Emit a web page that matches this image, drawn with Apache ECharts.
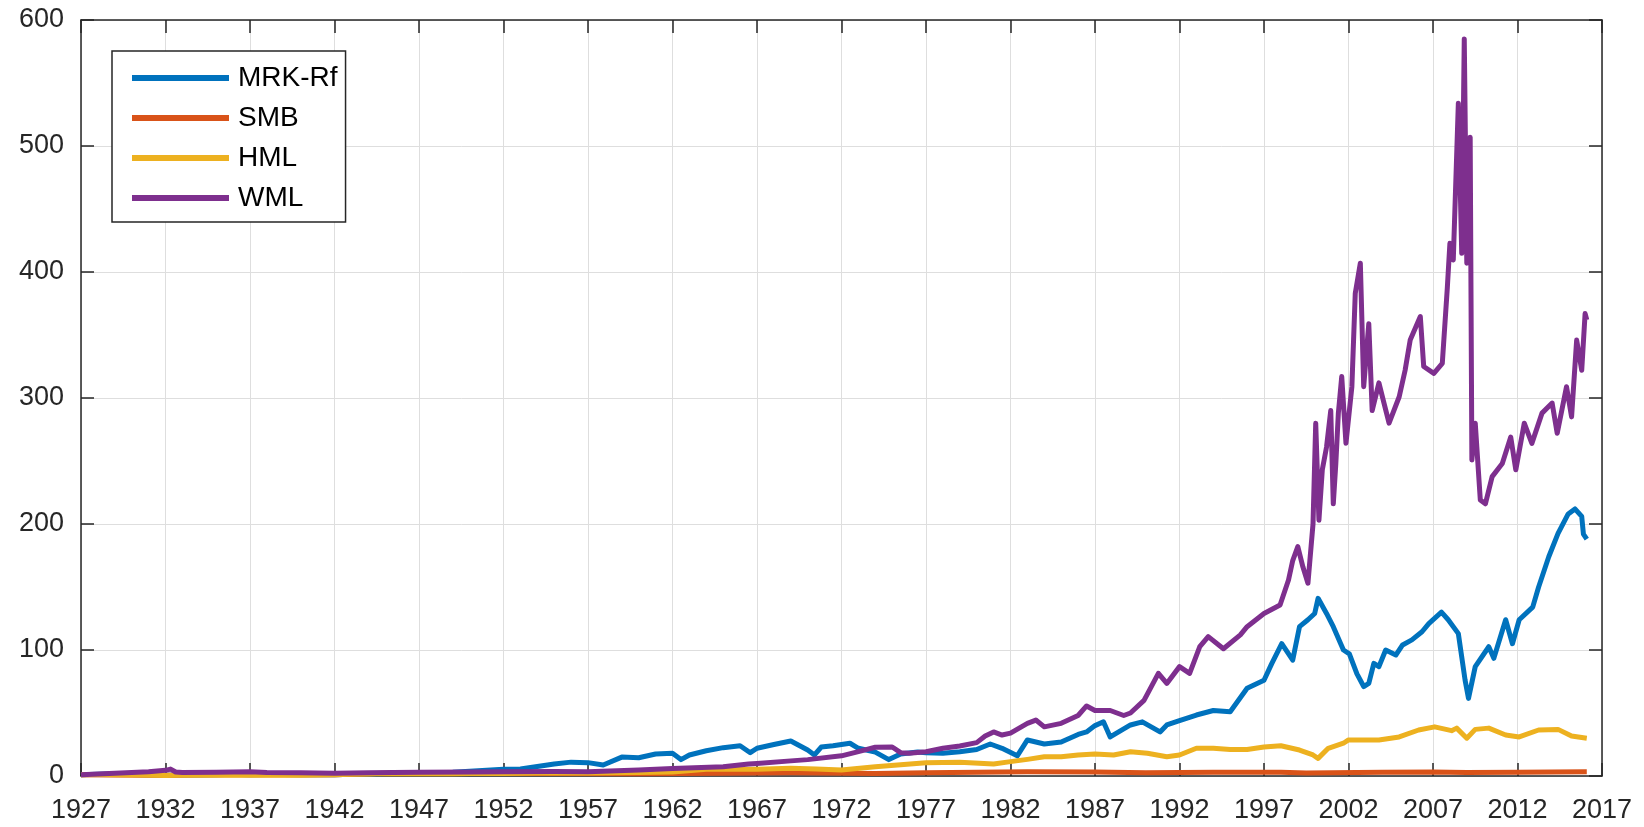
<!DOCTYPE html>
<html>
<head>
<meta charset="utf-8">
<title>Cumulative factor returns</title>
<script src="https://cdn.jsdelivr.net/npm/echarts@6/dist/echarts.min.js"></script>
<style>
    html, body { margin: 0; padding: 0; background: #fff; }
    #chart { width: 1644px; height: 827px; }
</style>
</head>
<body>
<div id="chart"></div>
<script>
// years (decimal) and cumulative values
var mrkYears = [1927, 1928, 1929, 1930, 1931, 1932, 1933, 1934, 1935, 1936, 1937, 1938, 1939, 1940, 1941, 1942, 1943, 1944, 1945, 1946,
    1947, 1948, 1949, 1950, 1951, 1952, 1953, 1954, 1955, 1956, 1957, 1957.9, 1959, 1960, 1961, 1962, 1962.5, 1963, 1964, 1965,
    1966, 1966.6, 1967, 1968, 1969, 1970, 1970.4, 1970.8, 1971.5, 1972.5, 1973, 1974, 1974.8, 1975.5, 1976.5, 1977, 1978, 1979, 1980, 1980.8,
    1981.5, 1982.4, 1983, 1984, 1985, 1986, 1986.5, 1987, 1987.5, 1987.9, 1989.1, 1989.8, 1990.85, 1991.25, 1992, 1993, 1994, 1995, 1996, 1997,
    1997.45, 1998.05, 1998.7, 1999.1, 1999.6, 2000.0, 2000.2, 2000.7, 2001.1, 2001.7, 2002.05, 2002.5, 2002.9, 2003.2, 2003.5, 2003.8, 2004.2, 2004.8, 2005.2, 2005.75,
    2006.35, 2006.75, 2007.5, 2007.9, 2008.5, 2008.9, 2009.1, 2009.5, 2010.3, 2010.6, 2011.3, 2011.7, 2012.1, 2012.9, 2013.25, 2013.85, 2014.4, 2015.0, 2015.4, 2015.8,
    2015.9, 2016.1];
var mrkValues = [1, 1.3, 1.7, 1.2, 0.7, 0.5, 0.8, 0.7, 1.0, 1.3, 0.9, 1.1, 1.1, 1.0, 0.9, 1.0, 1.3, 1.5, 2.0, 2.2,
    2.4, 2.6, 3.0, 3.8, 4.6, 5.3, 5.6, 7.5, 9.5, 11, 10.6, 8.7, 15, 14.5, 17.5, 18, 13, 16.7, 20, 22.5,
    24, 18.5, 22, 25, 27.8, 20.6, 16.7, 23, 24, 26, 22, 19, 13, 17.5, 19, 18.5, 18, 19.3, 21, 25.4,
    22, 16, 28.6, 25.4, 27, 33, 35, 40, 43, 31, 40.5, 43, 35, 40.5, 44, 48.4, 52, 51, 69.6, 76,
    89, 105, 92, 118.5, 124, 129, 141, 129, 118.5, 100, 97, 81, 71, 73.5, 89.4, 86.8, 100, 96, 104, 108,
    114.5, 121, 130, 124, 113, 76, 61.6, 86.8, 102.6, 93.4, 124, 105, 124, 134, 150, 174, 192.6, 208, 212, 206,
    192, 188];

var smbYears = [1927, 1929, 1932, 1934, 1937, 1940, 1942, 1944, 1946, 1950, 1955, 1960, 1965, 1969, 1974, 1977, 1983, 1987, 1990, 1994,
    1998, 1999.5, 2001, 2004, 2007, 2009, 2012, 2016.1];
var smbValues = [1, 0.8, 0.5, 1.0, 0.9, 0.9, 1.0, 1.8, 2.5, 2.0, 1.9, 1.8, 2.2, 2.6, 2.0, 2.5, 3.4, 3.2, 2.6, 3.0,
    3.0, 2.3, 2.6, 3.0, 3.2, 2.7, 3.0, 3.3];

var hmlYears = [1927, 1928, 1929, 1930, 1931, 1932, 1933, 1934, 1935, 1936, 1937, 1938, 1939, 1940, 1941, 1942, 1943, 1944, 1945, 1946,
    1947, 1948, 1949, 1950, 1952, 1954, 1957, 1960, 1962, 1964, 1967, 1969, 1970.5, 1972, 1974, 1975.5, 1977, 1979, 1981, 1982,
    1983, 1984, 1985, 1986, 1987, 1988.1, 1989.1, 1990.1, 1991.25, 1992, 1993, 1994, 1995, 1996, 1997, 1998, 1999.1, 1999.9, 2000.2, 2000.8,
    2001.7, 2002, 2003.3, 2003.8, 2005, 2006.15, 2007.1, 2008.1, 2008.4, 2009.0, 2009.5, 2010.3, 2011.3, 2012.1, 2013.25, 2014.4, 2015.2, 2016.1];
var hmlValues = [1, 1.1, 1.0, 0.8, 0.5, 0.4, 0.6, 0.5, 0.5, 0.7, 0.6, 0.6, 0.6, 0.6, 0.7, 0.9, 1.3, 1.6, 1.9, 1.8,
    1.7, 1.7, 1.8, 2.0, 2.0, 2.4, 2.3, 2.8, 3.2, 5.3, 5.3, 6.2, 5.5, 4.8, 7.4, 9, 10.6, 11, 9.5, 11.4,
    13.2, 15.3, 15.3, 16.7, 17.5, 16.7, 19.3, 18, 15.3, 16.7, 22, 22, 21, 21, 23, 24, 20.6, 16.7, 14, 22,
    26, 28.6, 28.6, 28.6, 31, 36.5, 39, 36, 38, 30, 37, 38, 32.5, 31, 36.5, 37, 31.7, 30];

var wmlYears = [1927, 1928, 1929, 1930, 1931, 1932, 1932.3, 1932.6, 1933, 1935, 1937, 1938, 1940, 1942, 1944, 1947, 1950, 1952, 1955, 1957,
    1960, 1962, 1965, 1966.5, 1967, 1969, 1970, 1972, 1973, 1974, 1975, 1975.5, 1976, 1977, 1978, 1979, 1980, 1980.5, 1981, 1981.5,
    1982, 1983, 1983.5, 1984, 1985, 1986, 1986.5, 1987, 1987.9, 1988.7, 1989.1, 1989.9, 1990.75, 1991.25, 1992, 1992.6, 1993.2, 1993.7, 1994.6, 1995.6,
    1996, 1997, 1997.95, 1998.45, 1998.7, 1999, 1999.3, 1999.6, 1999.9, 2000.06, 2000.25, 2000.45, 2000.7, 2000.95, 2001.1, 2001.25, 2001.4, 2001.6, 2001.85, 2002.2,
    2002.4, 2002.7, 2002.9, 2003.2, 2003.4, 2003.8, 2004.1, 2004.4, 2005.0, 2005.35, 2005.65, 2006.25, 2006.45, 2007.05, 2007.55, 2007.85, 2008.0, 2008.2, 2008.5, 2008.7,
    2008.85, 2009.0, 2009.2, 2009.3, 2009.5, 2009.8, 2010.1, 2010.5, 2011.1, 2011.6, 2011.9, 2012.4, 2012.85, 2013.45, 2014.05, 2014.35, 2014.9, 2015.2, 2015.5, 2015.8,
    2016.0, 2016.1];
var wmlValues = [1, 1.5, 2.2, 2.8, 3.4, 4.5, 5.5, 3.2, 2.8, 3.0, 3.4, 2.8, 2.5, 2.2, 2.5, 3.0, 3.2, 3.4, 3.5, 3.4,
    4.8, 6, 7.4, 9.5, 10, 12, 13, 16, 19.3, 22.8, 23, 18.5, 18, 19.3, 22, 23.8, 26.5, 31.7, 35, 32.5,
    34, 41.8, 44.4, 39, 41.8, 48, 55.6, 52, 52, 48, 50, 60, 81.5, 73.5, 86.8, 81.5, 102.6, 110.6, 101, 112,
    118.5, 129, 135.7, 155.6, 171, 182, 166, 153, 200, 280, 203, 243, 261, 290, 216, 248, 288, 317, 264, 309,
    383, 407, 309, 359, 290, 312, 296, 280, 301, 322, 346, 364.6, 325, 319.6, 327.5, 388, 422.8, 409.5, 534, 414.8,
    585, 407, 507, 250.8, 280, 219, 216, 237.6, 248, 269, 243, 280, 264, 288, 296, 272, 309, 285, 346, 322,
    367, 362];

var seriesNames = ['MRK-Rf', 'SMB', 'HML', 'WML'];
var seriesColors = ['#0072BD', '#D95319', '#EDB120', '#7E2F8E'];
var yTicks = [0, 100, 200, 300, 400, 500, 600];

// the x axis runs from 1927 in steps of 5, so ticks are counted from an offset of 0
var X0 = 1927;
function pairs(years, values) {
    var out = [];
    for (var i = 0; i < years.length; i++) {
        out.push([years[i] - X0, values[i]]);
    }
    return out;
}

var chart = echarts.init(document.getElementById('chart'));
var font = '"Liberation Sans", Arial, Helvetica, sans-serif';
var ink = '#262626';

var allData = [
    pairs(mrkYears, mrkValues),
    pairs(smbYears, smbValues),
    pairs(hmlYears, hmlValues),
    pairs(wmlYears, wmlValues)
];

var series = seriesNames.map(function (name, i) {
    return {
        name: name,
        type: 'line',
        xAxisIndex: 0,
        yAxisIndex: 0,
        data: allData[i],
        showSymbol: false,
        symbol: 'none',
        lineStyle: { color: seriesColors[i], width: 5, join: 'round' },
        itemStyle: { color: seriesColors[i] },
        z: 3 + i
    };
});

var option = {
    animation: false,
    backgroundColor: '#fff',
    grid: {
        left: 81,
        right: 42,
        top: 20,
        bottom: 51,
        containLabel: false
    },
    legend: {
        orient: 'vertical',
        left: 112,
        top: 51,
        icon: 'rect',
        itemWidth: 97,
        itemHeight: 6,
        itemGap: 12,
        padding: [13, 8, 10, 20],
        backgroundColor: '#fff',
        borderColor: ink,
        borderWidth: 1.5,
        textStyle: { fontSize: 28, color: '#000', fontFamily: font, padding: [0, 0, 0, 4] },
        data: seriesNames
    },
    xAxis: [{
        type: 'value',
        position: 'bottom',
        min: 0,
        max: 90,
        interval: 5,
        axisLine: { show: true, onZero: false, lineStyle: { color: ink, width: 1.5 } },
        axisTick: { show: true, inside: true, length: 13, lineStyle: { color: ink, width: 1.5 } },
        axisLabel: {
            fontSize: 27, color: ink, fontFamily: font, margin: 21,
            showMinLabel: true, showMaxLabel: true,
            formatter: function (v) { return String(v + X0); }
        },
        splitLine: { show: true, lineStyle: { color: '#dedede', width: 1 } }
    }, {
        type: 'value',
        position: 'top',
        min: 0,
        max: 90,
        interval: 5,
        axisLine: { show: true, onZero: false, lineStyle: { color: ink, width: 1.5 } },
        axisTick: { show: true, inside: true, length: 13, lineStyle: { color: ink, width: 1.5 } },
        axisLabel: { show: false },
        splitLine: { show: false }
    }],
    yAxis: [{
        type: 'value',
        position: 'left',
        min: yTicks[0],
        max: yTicks[yTicks.length - 1],
        interval: 100,
        axisLine: { show: true, onZero: false, lineStyle: { color: ink, width: 1.5 } },
        axisTick: { show: true, inside: true, length: 13, lineStyle: { color: ink, width: 1.5 } },
        axisLabel: { fontSize: 27, color: ink, fontFamily: font, margin: 17, padding: [4, 0, 0, 0] },
        splitLine: { show: true, lineStyle: { color: '#dedede', width: 1 } }
    }, {
        type: 'value',
        position: 'right',
        min: yTicks[0],
        max: yTicks[yTicks.length - 1],
        interval: 100,
        axisLine: { show: true, onZero: false, lineStyle: { color: ink, width: 1.5 } },
        axisTick: { show: true, inside: true, length: 13, lineStyle: { color: ink, width: 1.5 } },
        axisLabel: { show: false },
        splitLine: { show: false }
    }],
    series: series
};

chart.setOption(option);
</script>
</body>
</html>
